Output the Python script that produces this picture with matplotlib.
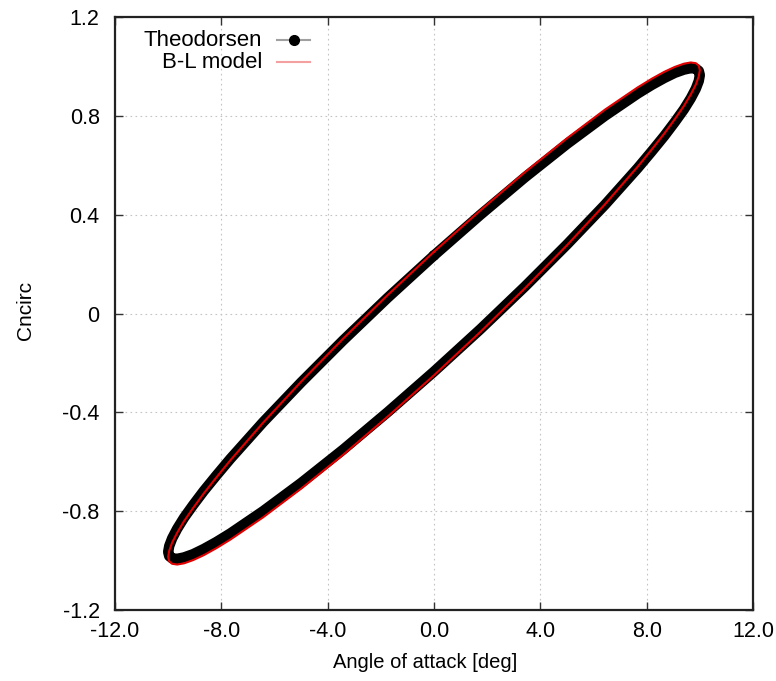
import matplotlib
matplotlib.use("Agg")
import matplotlib.pyplot as plt
from matplotlib.lines import Line2D

plt.rcParams['font.family'] = ['Liberation Sans', 'DejaVu Sans']

# one pitching cycle, angle of attack in degrees
alpha = [0.00, 1.74, 3.42, 5.00, 6.43, 7.66, 8.19, 8.66, 9.06, 9.40, 9.66, 9.85, 9.96,
         10.00, 9.96, 9.85, 9.66, 9.40, 9.06, 8.66, 8.19, 7.66, 6.43, 5.00, 3.42, 1.74,
         0.00, -1.74, -3.42, -5.00, -6.43, -7.66, -8.19, -8.66, -9.06, -9.40, -9.66, -9.85, -9.96,
         -10.00, -9.96, -9.85, -9.66, -9.40, -9.06, -8.66, -8.19, -7.66, -6.43, -5.00, -3.42, -1.74,
         0.00]

# circulatory normal force, Theodorsen
cn_theo = [0.235, 0.399, 0.551, 0.686, 0.800, 0.890, 0.925, 0.953, 0.974, 0.987, 0.993, 0.991, 0.982,
           0.965, 0.941, 0.910, 0.871, 0.826, 0.775, 0.718, 0.656, 0.588, 0.440, 0.279, 0.109, -0.064,
           -0.235, -0.399, -0.551, -0.686, -0.800, -0.890, -0.925, -0.953, -0.974, -0.987, -0.993, -0.991, -0.982,
           -0.965, -0.941, -0.910, -0.871, -0.826, -0.775, -0.718, -0.656, -0.588, -0.440, -0.279, -0.109, 0.064,
           0.235]

# circulatory normal force, Beddoes-Leishman
cn_bl = [0.250, 0.417, 0.572, 0.709, 0.825, 0.915, 0.950, 0.978, 0.998, 1.011, 1.016, 1.013, 1.003,
         0.985, 0.960, 0.927, 0.887, 0.840, 0.787, 0.728, 0.664, 0.594, 0.442, 0.276, 0.102, -0.075,
         -0.250, -0.417, -0.572, -0.709, -0.825, -0.915, -0.950, -0.978, -0.998, -1.011, -1.016, -1.013, -1.003,
         -0.985, -0.960, -0.927, -0.887, -0.840, -0.787, -0.728, -0.664, -0.594, -0.442, -0.276, -0.102, 0.075,
         0.250]

xticks = [-12, -8, -4, 0, 4, 8, 12]
yticks = [-1.2, -0.8, -0.4, 0, 0.4, 0.8, 1.2]

fig = plt.figure(figsize=(7.76, 6.81), dpi=100)
ax = fig.add_axes([115 / 776, 71 / 681, 638 / 776, 593 / 681])

ax.plot(alpha, cn_theo, color='black', lw=7.5, solid_joinstyle='round', solid_capstyle='round')
ax.plot(alpha, cn_bl, color='#e00000', lw=1.5)

ax.set_xlim(-12, 12)
ax.set_ylim(-1.2, 1.2)
ax.set_xticks(xticks)
ax.set_yticks(yticks)
ax.set_xticklabels(['%.1f' % v for v in xticks])
ax.set_yticklabels(['%g' % v for v in yticks])
ax.tick_params(direction='in', length=6, width=1, color='#333333', top=True, right=True,
               labelsize=15.5)
ax.tick_params(axis='y', pad=11)
ax.tick_params(axis='x', pad=8)
ax.grid(True, color='#c4c4c4', lw=0.8, linestyle=(0, (1.5, 3)))
ax.set_axisbelow(True)
for s in ax.spines.values():
    s.set_linewidth(1.6)
    s.set_color('#222222')

ax.set_xlabel('Angle of attack [deg]', fontsize=14.5)
ax.xaxis.set_label_coords((425 - 115) / 638, -52 / 593)
ax.xaxis.label.set_va('center')
ax.set_ylabel('Cncirc', fontsize=15)
ax.yaxis.set_label_coords((25 - 115) / 638, (610 - 310) / 593)
ax.yaxis.label.set_va('center')

# key in the upper left corner, labels right-aligned before the samples
tx = (262 - 115) / 638
x0, x1 = (277 - 115) / 638, (310 - 115) / 638
rows = [(610 - 40) / 593, (610 - 62) / 593]
ax.text(tx, rows[0], 'Theodorsen', transform=ax.transAxes, ha='right', va='center', fontsize=16)
ax.text(tx, rows[1], 'B-L model', transform=ax.transAxes, ha='right', va='center', fontsize=16)
ax.add_line(Line2D([x0, x1], [rows[0], rows[0]], transform=ax.transAxes, color='#a0a0a0', lw=1.5))
ax.add_line(Line2D([(x0 + x1) / 2], [rows[0]], transform=ax.transAxes, marker='o', ms=7,
                   color='black', ls='none'))
ax.add_line(Line2D([x0, x1], [rows[1], rows[1]], transform=ax.transAxes, color='#f4a0a0', lw=1.5))

fig.savefig('out.png', dpi=100)
